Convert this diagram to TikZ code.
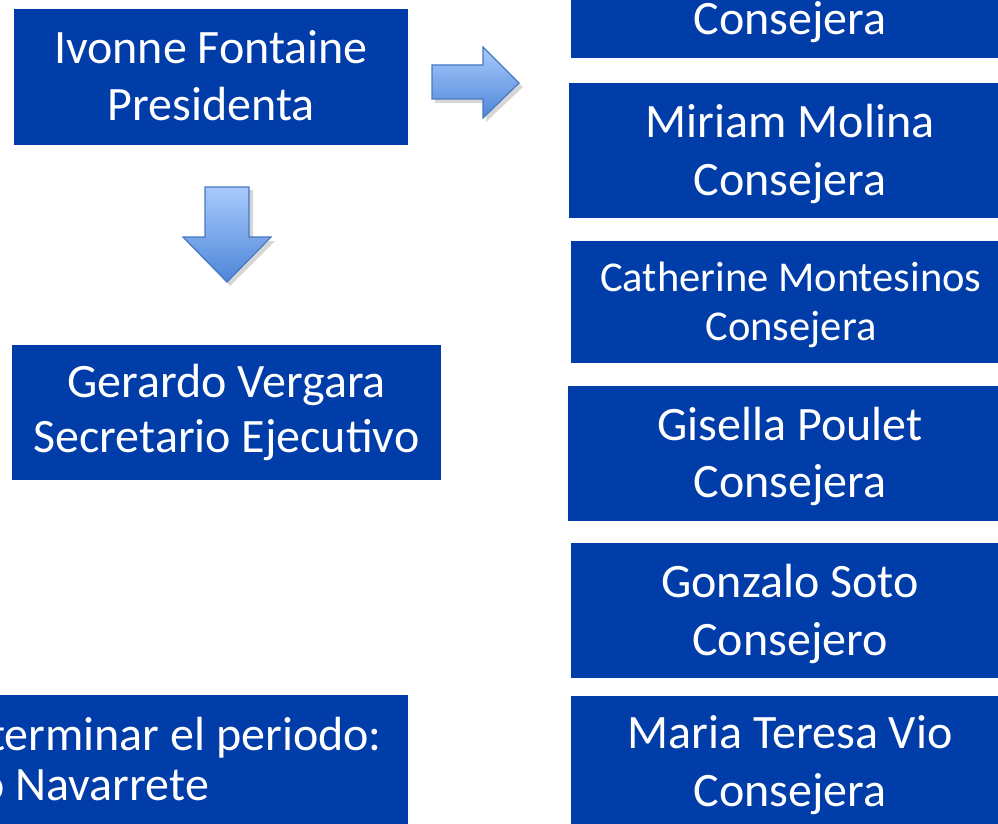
\documentclass[tikz,border=0pt]{standalone}
\usepackage{fontspec}
\setmainfont{Carlito}
\definecolor{boxblue}{RGB}{0,61,168}
\definecolor{arrtop}{RGB}{168,202,252}
\definecolor{arrbot}{RGB}{78,134,216}
\definecolor{arredge}{RGB}{70,120,196}
\begin{document}
\begin{tikzpicture}[x=1pt,y=-1pt,
  box/.style={fill=boxblue, inner sep=0pt},
  lbl/.style={text=white, inner sep=0pt, anchor=base, font=\fontsize{48}{58}\selectfont},
  smalllbl/.style={lbl, font=\fontsize{42.5}{50}\selectfont},
  blockarrow/.style={draw=arredge, line width=1.2pt, top color=arrtop, bottom color=arrbot, line join=miter},
  arrshadow/.style={fill=black, opacity=0.16}]
\useasboundingbox (0,0) rectangle (998,824);
\fill[white] (0,0) rectangle (998,824);
\clip (0,0) rectangle (998,824);

% left column
\node[box, minimum width=394pt, minimum height=136pt] (pres) at (211,77) {};
\node[lbl] (pres1) at (211,64) {Ivonne Fontaine};
\node[lbl] (pres2) at (211,121) {Presidenta};

\node[box, minimum width=429pt, minimum height=135pt] (sec) at (226.5,412.5) {};
\node[lbl] (sec1) at (226.5,397) {Gerardo Vergara};
\node[lbl] (sec2) at (226.5,452.5) {Secretario Ejecutivo};

\node[box, minimum width=608pt, minimum height=150pt] (nav) at (104,770) {};
\node[lbl, anchor=base east] (nav1) at (382,750) {terminar el periodo:};
\node[lbl, anchor=base east] (nav2) at (209,800) {o Navarrete};

% right column
\node[box, minimum width=438pt, minimum height=140pt] (c1) at (790,-12) {};
\node[lbl] (c1t) at (790,35) {Consejera};

\node[box, minimum width=440pt, minimum height=135pt] (c2) at (789,150.5) {};
\node[lbl] (c2a) at (790,137) {Miriam Molina};
\node[lbl] (c2b) at (790,195) {Consejera};

\node[box, minimum width=438pt, minimum height=122pt] (c3) at (790,302) {};
\node[smalllbl] (c3a) at (791,291) {Catherine Montesinos};
\node[smalllbl] (c3b) at (791,340.5) {Consejera};

\node[box, minimum width=441pt, minimum height=135pt] (c4) at (788.5,453.5) {};
\node[lbl] (c4a) at (790,440) {Gisella Poulet};
\node[lbl] (c4b) at (790,497) {Consejera};

\node[box, minimum width=438pt, minimum height=135pt] (c5) at (790,610.5) {};
\node[lbl] (c5a) at (790,597) {Gonzalo Soto};
\node[lbl] (c5b) at (790,655) {Consejero};

\node[box, minimum width=438pt, minimum height=136pt] (c6) at (790,764) {};
\node[lbl] (c6a) at (790,748.5) {Maria Teresa Vio};
\node[lbl] (c6b) at (790,806.5) {Consejera};

% right block arrow
\fill[arrshadow] (435,69) -- (486,69) -- (486,51) -- (523,87) -- (486,122) -- (486,103) -- (435,103) -- cycle;
\draw[blockarrow] (432,65) -- (483,65) -- (483,47) -- (519,83) -- (483,118) -- (483,99) -- (432,99) -- cycle;

% down block arrow
\fill[arrshadow] (208,190) -- (253,190) -- (253,241) -- (275,241) -- (230,286) -- (186,241) -- (208,241) -- cycle;
\draw[blockarrow] (205,187) -- (249,187) -- (249,237) -- (271,237) -- (227,282) -- (183,237) -- (205,237) -- cycle;
\end{tikzpicture}
\end{document}
